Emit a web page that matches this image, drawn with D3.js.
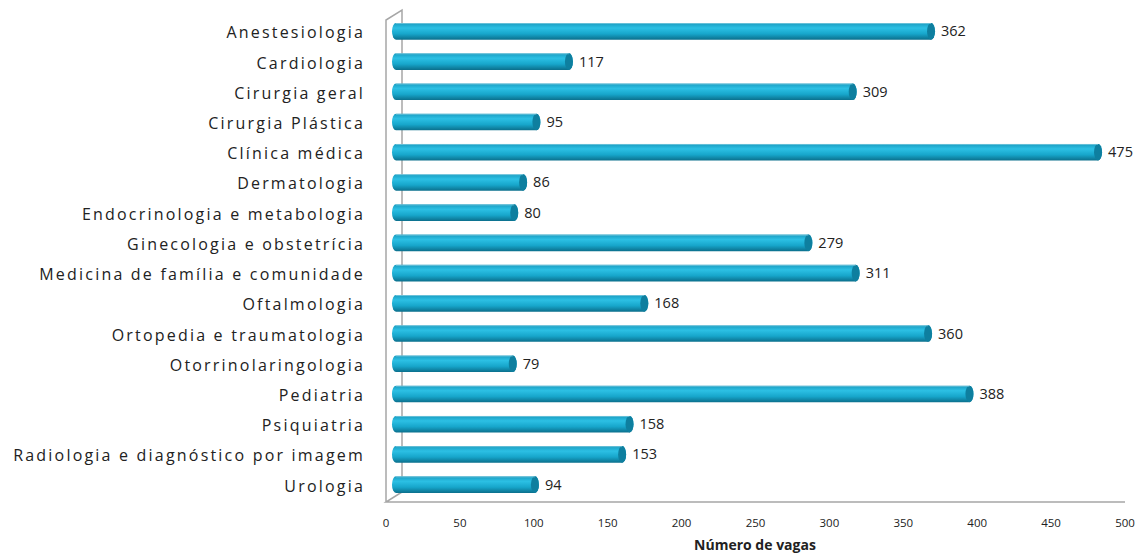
<!DOCTYPE html>
<html>
<head>
<meta charset="UTF-8">
<script src="https://d3js.org/d3.v7.min.js"></script>
<style>
  body { margin: 0; background: #fff; }
  text { font-family: "Open Sans", sans-serif; fill: #222; }
</style>
</head>
<body>
<svg id="chart" width="1140" height="554"></svg>
<script>
const categories = ["Anestesiologia", "Cardiologia", "Cirurgia geral", "Cirurgia Plástica",
  "Clínica médica", "Dermatologia", "Endocrinologia e metabologia", "Ginecologia e obstetrícia",
  "Medicina de família e comunidade", "Oftalmologia", "Ortopedia e traumatologia",
  "Otorrinolaringologia", "Pediatria", "Psiquiatria", "Radiologia e diagnóstico por imagem", "Urologia"];
const values = [362, 117, 309, 95, 475, 86, 80, 279, 311, 168, 360, 79, 388, 158, 153, 94];
const ticks = [0, 50, 100, 150, 200, 250, 300, 350, 400, 450, 500];

const svg = d3.select("#chart");
const x = d3.scaleLinear().domain([0, 500]).range([386, 1125]);
const y = d3.scaleBand().domain(categories).range([17, 499]).paddingInner(0.45).paddingOuter(0.2);
const depth = { dx: 16, dy: -10 };

const defs = svg.append("defs");
const grad = defs.append("linearGradient").attr("id", "cyl").attr("x1", 0).attr("y1", 0).attr("x2", 0).attr("y2", 1);
grad.append("stop").attr("offset", "0%").attr("stop-color", "#1a9cc0");
grad.append("stop").attr("offset", "30%").attr("stop-color", "#2cc0e4");
grad.append("stop").attr("offset", "65%").attr("stop-color", "#17a6cb");
grad.append("stop").attr("offset", "100%").attr("stop-color", "#0b6f8c");

// frame: back wall and floor
const x0 = x(0), yTop = 20, yBottom = 502;
svg.append("path")
  .attr("d", `M${x0},${yBottom} L${x0},${yTop} L${x0 + depth.dx},${yTop + depth.dy} L${x0 + depth.dx},${yBottom + depth.dy} L${x0},${yBottom} L${x(500)},${yBottom}`)
  .attr("fill", "none").attr("stroke", "#a6a6a6").attr("stroke-width", 1.5);

// bars as cylinders
const bars = svg.append("g").selectAll("g").data(values).enter().append("g");
const h = y.bandwidth();
const startX = x0 + 6;
bars.append("path")
  .attr("d", (d, i) => {
    const top = y(categories[i]), end = x(d) + 10, r = h / 2;
    return `M${startX + 4},${top} L${end},${top} A4,${r} 0 0 1 ${end},${top + h} L${startX + 4},${top + h} A4,${r} 0 0 1 ${startX + 4},${top} Z`;
  })
  .attr("fill", "url(#cyl)");
bars.append("ellipse")
  .attr("cx", (d) => x(d) + 10)
  .attr("cy", (d, i) => y(categories[i]) + h / 2)
  .attr("rx", 4).attr("ry", h / 2)
  .attr("fill", "#0e7f9f");
bars.append("path")
  .attr("d", (d, i) => `M${startX + 4},${y(categories[i]) + 0.5} L${x(d) + 10},${y(categories[i]) + 0.5}`)
  .attr("stroke", "#9fd8e8").attr("stroke-width", 1).attr("opacity", 0.6);

// value labels
bars.append("text")
  .attr("x", (d) => x(d) + 20)
  .attr("y", (d, i) => y(categories[i]) + h / 2 + 5)
  .attr("font-size", 14.5)
  .text((d) => d);

// category labels
svg.append("g").selectAll("text").data(categories).enter().append("text")
  .attr("x", 365)
  .attr("y", (d) => y(d) + h / 2 + 7)
  .attr("text-anchor", "end")
  .attr("font-size", 16)
  .attr("letter-spacing", 2.2)
  .text((d) => d);

// x tick labels
svg.append("g").selectAll("text").data(ticks).enter().append("text")
  .attr("x", (d) => x(d))
  .attr("y", 527)
  .attr("text-anchor", "middle")
  .attr("font-size", 11.5)
  .text((d) => d);

svg.append("text")
  .attr("x", 755).attr("y", 550)
  .attr("text-anchor", "middle")
  .attr("font-size", 14).attr("font-weight", "bold")
  .text("Número de vagas");
</script>
</body>
</html>
